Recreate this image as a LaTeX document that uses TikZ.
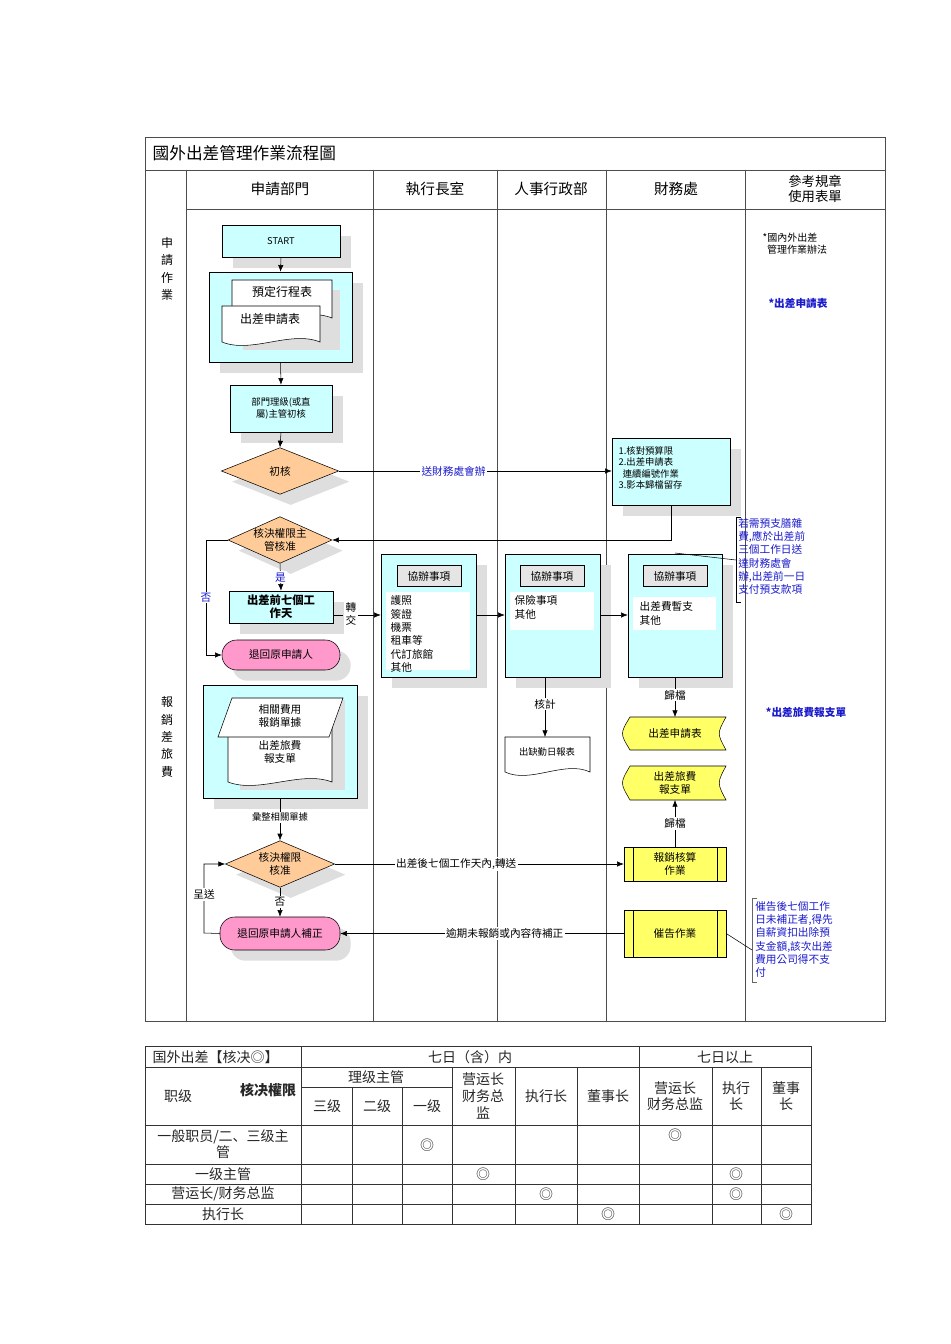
\documentclass[tikz,border=0pt]{standalone}
\usepackage{fontspec}
\setmainfont{Noto Sans CJK TC}
\newfontfamily\scfont{Noto Sans CJK SC}
\usetikzlibrary{shapes.geometric,shapes.misc,fit,shadows,arrows.meta}
\definecolor{cy}{HTML}{CCFFFF}
\definecolor{dia}{HTML}{FFCC99}
\definecolor{pinkc}{HTML}{FF99CC}
\definecolor{yel}{HTML}{FFFF66}
\definecolor{bl}{HTML}{1A1ACC}
\tikzset{
 sh/.style={drop shadow={shadow xshift=8pt,shadow yshift=-8pt,fill=black!13,opacity=1}},
 box/.style={draw,fill=cy,inner sep=0,sh},
 ybox/.style={draw,fill=yel,inner sep=0},
 dia/.style={diamond,draw,fill=dia,inner sep=0,aspect=2.4,sh},
 pill/.style={draw,fill=pinkc,inner sep=0,rounded corners=11pt,sh},
 arr/.style={-{Latex[length=5pt,width=4pt]}},
 t/.style={font=\fontsize{8}{9.5}\selectfont,align=center},
 ts/.style={font=\fontsize{7}{8.5}\selectfont,align=left},
 bt/.style={font=\fontsize{8}{9.5}\selectfont,text=bl,align=left},
 lab/.style={fill=white,inner sep=1pt,font=\fontsize{8}{9.5}\selectfont},
 hd/.style={font=\fontsize{11}{13}\selectfont,align=center},
 tb/.style={font=\scfont\fontsize{10.5}{12}\selectfont,align=center,text=black!85},
}
\newcommand\docpath[4]{(#1,#2)--(#3,#2)--(#3,#4) .. controls ({#3-0.3*(#3-#1)},{#4-12}) and ({#1+0.3*(#3-#1)},{#4+12}) .. (#1,#4)--cycle}
\newcommand\tapepath[4]{({#1+5},#2)--(#3,#2) .. controls ({#3-9},{(#2+#4)/2}) .. (#3,#4) -- ({#1+5},#4) .. controls ({#1-5},{(#2+#4)/2}) .. ({#1+5},#2)--cycle}
\begin{document}
\begin{tikzpicture}[x=0.75pt,y=-0.75pt]
\useasboundingbox (0,0) rectangle (950,1344);
% frame
\draw[black!70] (145,137) rectangle (885,1021);
\draw[black!70] (145,170)--(885,170) (186,209)--(885,209);
\foreach \x in {186,373,497,606,745} \draw[black!70] (\x,170)--(\x,1021);
\node[anchor=west,font=\fontsize{12.5}{14}\selectfont] (title) at (148,153) {國外出差管理作業流程圖};
\node[hd] (h1) at (280,189) {申請部門};
\node[hd] (h2) at (435,189) {執行長室};
\node[hd] (h3) at (551,189) {人事行政部};
\node[hd] (h4) at (676,189) {財務處};
\node[hd,font=\fontsize{10}{11.5}\selectfont] (h5) at (815,189) {參考規章\\使用表單};
\node[t,font=\fontsize{9}{13}\selectfont] (s1) at (167,269) {申\\請\\作\\業};
\node[t,font=\fontsize{9}{13}\selectfont] (s2) at (167,737) {報\\銷\\差\\旅\\費};
% START
\node[box,fit={(222,225)(340,257)}] (start) {};
\node[t,font=\fontsize{7}{8}\selectfont] at (start) {START};
% group 1
\node[box,fit={(209,272)(352,362)}] (g1) {};
\fill[black!13] (243,290) rectangle (340,350);
\draw[fill=white] \docpath{232}{280}{332}{318};
\node[t,font=\fontsize{9}{10}\selectfont] (d1) at (282,292) {預定行程表};
\draw[fill=white] \docpath{222}{306}{320}{342};
\node[t,font=\fontsize{9}{10}\selectfont] (d2) at (270,319) {出差申請表};
\draw[arr] (start.south) -- (g1.north);
% dept
\node[box,fit={(230,385)(332,432)}] (dept) {};
\node[ts,align=center,font=\fontsize{7}{8.5}\selectfont] at (dept) {部門理級(或直\\屬)主管初核};
\draw[arr] (g1.south) -- (dept.north);
\node[dia,minimum width=88pt,minimum height=35pt] (d0) at (280,471) {};
\node[t] at (d0) {初核};
\draw[arr] (dept.south) -- (d0.north);
% finance
\node[box,fit={(612,438)(730,505)}] (fin) {};
\node[ts,anchor=north west] at (614,442) {1.核對預算限\\2.出差申請表\\\ \ 連續編號作業\\3.影本歸檔留存};
\draw[arr] (d0.east) -- (fin.west|-d0) node[lab,text=bl,pos=0.42] {送財務處會辦};
% diamond 2
\node[dia,minimum width=78pt,minimum height=35pt] (d2m) at (280,540) {};
\node[t] at (d2m) {核決權限主\\管核准};
\draw[arr] (fin.south) |- (d2m.east);
\node[box,fit={(229,591)(333,623)}] (seven) {};
\node[t,font=\bfseries\itshape\fontsize{8.5}{9.5}\selectfont] at (seven) {出差前七個工\\作天};
\draw[arr] (d2m.south) -- (seven.north) node[midway,lab,text=bl] {是};
\node[pill,fit={(222,640)(340,670)}] (ret1) {};
\node[t] at (ret1) {退回原申請人};
\coordinate (no1) at (206,540);
\draw[arr] (d2m.west) -- (no1) |- (ret1.west) node[pos=0.25,lab,text=bl] {否};
% co boxes
\node[box,fit={(381,554)(476,677)}] (c1) {};
\node[box,fit={(505,554)(600,677)}] (c2) {};
\node[box,fit={(628,554)(722,677)}] (c3) {};
\fill[white] (386,592) rectangle (470,670);
\fill[white] (510,592) rectangle (594,630);
\fill[white] (633,597) rectangle (716,630);
\foreach \x in {429,552,675}{
  \node[draw,fill=black!10,t,minimum width=48pt,minimum height=16pt] at (\x,576) {協辦事項};
}
\node[ts,anchor=north west,font=\fontsize{8}{10}\selectfont] at (386,591) {護照\\簽證\\機票\\租車等\\代訂旅館\\其他};
\node[ts,anchor=north west,font=\fontsize{8}{10}\selectfont] at (510,591) {保險事項\\其他};
\node[ts,anchor=north west,font=\fontsize{8}{10}\selectfont] at (635,597) {出差費暫支\\其他};
\coordinate (tr) at (343,615);
\draw (seven.east|-tr) -- (tr);
\node[t] at (351,614) {轉\\交};
\draw[arr] (358,615) -- (c1.west|-tr);
\draw[arr] (c1.east|-tr) -- (c2.west|-tr);
\draw[arr] (c2.east|-tr) -- (c3.west|-tr);
% note 1
\node[bt,anchor=north west,font=\fontsize{8}{10}\selectfont,inner sep=0] (n1) at (738,518) {若需預支膳雜\\費,應於出差前\\三個工作日送\\達財務處會\\辦,出差前一日\\支付預支款項};
\draw (741,517)--(736,517)--(736,602)--(741,602);
\draw (675,553)--(736,560);
% attendance
\draw[fill=white] \docpath{505}{737}{590}{772};
\node[t,font=\fontsize{7}{8}\selectfont] (att) at (547,752) {出缺勤日報表};
\draw[arr] (c2.south-|545,0) -- (545,737) node[pos=0.45,lab] {核計};
% yellow tapes
\draw[fill=yel] \tapepath{625}{717}{726}{750};
\node[t] (y1) at (675,733) {出差申請表};
\draw[fill=yel] \tapepath{625}{766}{726}{800};
\node[t] (y2) at (675,783) {出差旅費\\報支單};
\draw[arr] (c3.south) -- (675,717) node[pos=0.45,lab] {歸檔};
% ref column
\node[ts,anchor=north west,font=\fontsize{7.5}{9.5}\selectfont] at (758,228) {*國內外出差\\\ \ 管理作業辦法};
\node[bt,font=\bfseries\fontsize{8}{9.5}\selectfont] at (798,303) {*出差申請表};
\node[bt,font=\bfseries\fontsize{8}{9.5}\selectfont] at (806,712) {*出差旅費報支單};
% group 2
\node[box,fit={(203,685)(357,798)}] (g2) {};
\fill[black!13] (240,700) rectangle (345,790);
\draw[fill=white] \docpath{228}{710}{332}{782};
\draw[fill=white] (232,698)--(343,698)--(329,737)--(218,737)--cycle;
\node[t] at (280,716) {相關費用\\報銷單據};
\node[t] at (280,752) {出差旅費\\報支單};
\node[dia,minimum width=82pt,minimum height=35pt] (d3) at (280,864) {};
\node[t] at (d3) {核決權限\\核准};
\draw[arr] (g2.south) -- (d3.north) node[pos=0.45,lab,font=\fontsize{7}{8}\selectfont] {彙整相關單據};
% reimburse
\node[ybox,fit={(624,847)(726,881)}] (re) {};
\draw (633,847)--(633,881) (717,847)--(717,881);
\node[t] at (re) {報銷核算\\作業};
\draw[arr] (d3.east) -- (re.west|-d3) node[lab,pos=0.42] {出差後七個工作天內,轉送};
\draw[arr] (re.north) -- (675,800) node[midway,lab] {歸檔};
\node[pill,fit={(220,917)(340,950)}] (ret2) {};
\node[t] at (ret2) {退回原申請人補正};
\draw[arr] (d3.south) -- (ret2.north) node[midway,lab] {否};
\coordinate (cs) at (204,933);
\draw[arr] (ret2.west) -- (cs) |- (d3.west) node[pos=0.28,lab] {呈送};
\node[ybox,fit={(624,910)(726,957)}] (urge) {};
\draw (633,910)--(633,957) (717,910)--(717,957);
\node[t] at (urge) {催告作業};
\draw[arr] (urge.west) -- (ret2.east|-urge) node[lab,pos=0.42] {逾期未報銷或內容待補正};
\node[bt,anchor=north west,font=\fontsize{8}{10}\selectfont,inner sep=0] (n2) at (755,901) {催告後七個工作\\日未補正者,得先\\自薪資扣出除預\\支金額,該次出差\\費用公司得不支\\付};
\draw[black!60] (757,898)--(752,898)--(752,982)--(757,982);
\draw (urge.east) -- (752,950);
% table
\draw[black!80] (145,1046) rectangle (811,1224);
\foreach \y in {1067,1125,1164,1184,1204} \draw[black!80] (145,\y)--(811,\y);
\draw[black!80] (301,1087)--(452,1087);
\draw[black!80] (301,1046)--(301,1224) (639,1046)--(639,1224);
\foreach \x in {352,402} \draw[black!80] (\x,1087)--(\x,1224);
\foreach \x in {452,515,577,712,761} \draw[black!80] (\x,1067)--(\x,1224);
\node[tb,anchor=west] at (148,1057) {国外出差【核决◎】};
\node[tb] at (470,1057) {七日（含）内};
\node[tb] at (725,1057) {七日以上};
\node[tb] at (178,1096) {职级};
\node[tb,font=\bfseries\fontsize{10.5}{12}\selectfont] at (268,1090) {核决權限};
\node[tb] at (376,1077) {理级主管};
\node[tb] at (327,1106) {三级};
\node[tb] at (377,1106) {二级};
\node[tb] at (427,1106) {一级};
\node[tb,font=\scfont\fontsize{10.5}{12.5}\selectfont] at (483,1096) {营运长\\财务总\\监};
\node[tb] at (546,1096) {执行长};
\node[tb] at (608,1096) {董事长};
\node[tb] at (675,1096) {营运长\\财务总监};
\node[tb] at (736,1096) {执行\\长};
\node[tb] at (786,1096) {董事\\长};
\node[tb] at (223,1144) {一般职员/二、三级主\\管};
\node[tb] at (223,1174) {一级主管};
\node[tb] at (223,1194) {营运长/财务总监};
\node[tb] at (223,1214) {执行长};
\node[tb] at (427,1145) {◎};
\node[tb] at (675,1135) {◎};
\node[tb] at (483,1174) {◎};
\node[tb] at (736,1174) {◎};
\node[tb] at (546,1194) {◎};
\node[tb] at (736,1194) {◎};
\node[tb] at (608,1214) {◎};
\node[tb] at (786,1214) {◎};
\end{tikzpicture}
\end{document}
